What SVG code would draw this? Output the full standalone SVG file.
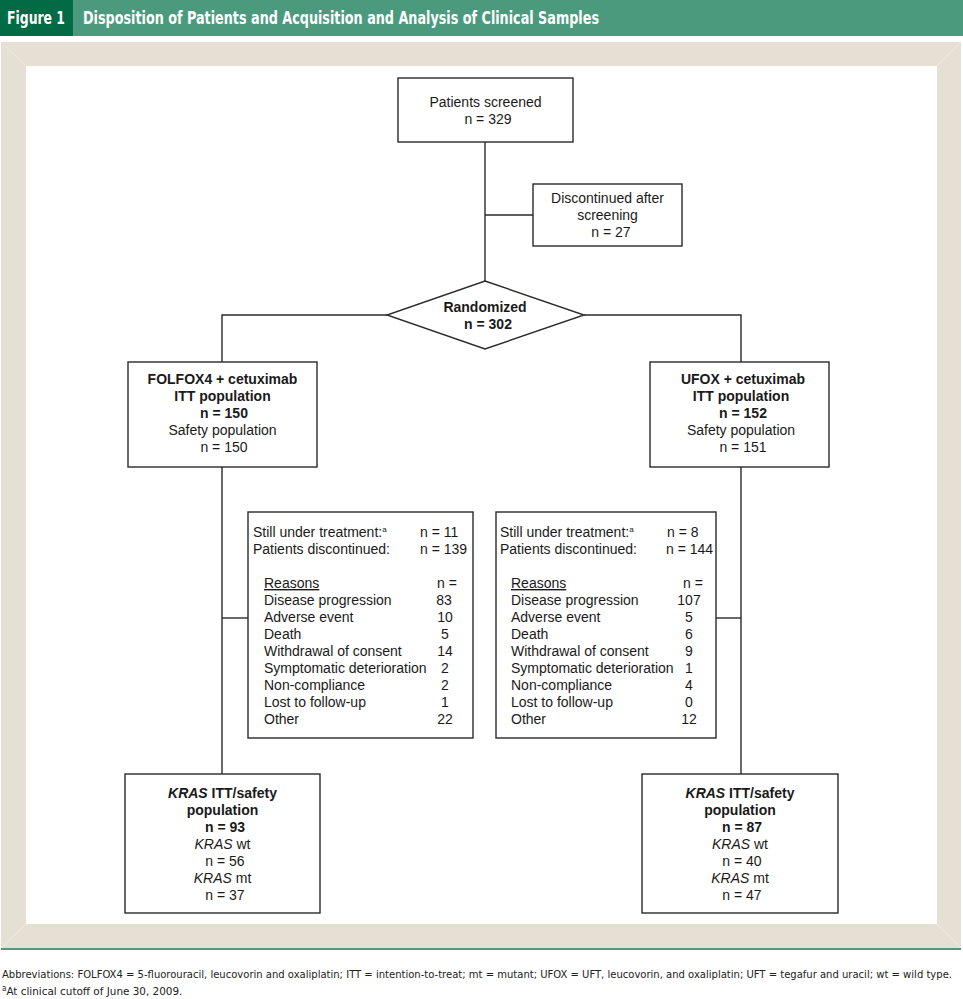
<svg xmlns="http://www.w3.org/2000/svg" width="963" height="999" viewBox="0 0 963 999">
<style>
  text { font-family: "Liberation Sans", Arial, sans-serif; font-size: 14px; fill: #1a1a1a; }
  .b { font-weight: bold; }
  .i { font-style: italic; }
  .m { text-anchor: middle; }
  .box { fill: #ffffff; stroke: #2a2a2a; stroke-width: 1.4; }
  .ln { fill: none; stroke: #2a2a2a; stroke-width: 1.4; }
  .hdr { font-family: "DejaVu Sans Condensed", "Liberation Sans Narrow", "Liberation Sans", sans-serif; font-weight: bold; font-size: 17px; fill: #ffffff; }
  .ft { font-family: "DejaVu Sans Condensed", "Liberation Sans Narrow", "Liberation Sans", sans-serif; font-size: 11px; fill: #222222; }
  .sup { font-size: 8px; }
</style>
<rect x="0" y="0" width="963" height="999" fill="#ffffff"/>
<!-- header -->
<g id="header">
  <rect x="0" y="0" width="963" height="36" fill="#4b9a7e"/>
  <rect x="0" y="0" width="73" height="36" fill="#006b45"/>
  <text class="hdr" x="7" y="24" textLength="58" lengthAdjust="spacingAndGlyphs">Figure 1</text>
  <text class="hdr" x="83" y="24" textLength="516" lengthAdjust="spacingAndGlyphs">Disposition of Patients and Acquisition and Analysis of Clinical Samples</text>
</g>
<!-- frame -->
<g id="frame">
  <rect x="1" y="42" width="960" height="906" fill="#e6e0d4"/>
  <rect x="26" y="66" width="911" height="858" fill="#ffffff"/>
  <g stroke="#efebe3" stroke-width="1">
    <line x1="1" y1="42" x2="26" y2="66"/>
    <line x1="961" y1="42" x2="937" y2="66"/>
    <line x1="1" y1="948" x2="26" y2="924"/>
    <line x1="961" y1="948" x2="937" y2="924"/>
  </g>
  <rect x="1" y="948" width="960" height="2" fill="#4e9c80"/>
</g>
<!-- connectors -->
<g id="connectors">
  <line class="ln" x1="485" y1="142" x2="485" y2="281"/>
  <line class="ln" x1="485" y1="215" x2="533" y2="215"/>
  <polyline class="ln" points="387,315 222,315 222,362"/>
  <polyline class="ln" points="584,315 741,315 741,362"/>
  <line class="ln" x1="222" y1="467" x2="222" y2="774"/>
  <line class="ln" x1="222" y1="618" x2="248" y2="618"/>
  <line class="ln" x1="741" y1="467" x2="741" y2="774"/>
  <line class="ln" x1="716" y1="618" x2="741" y2="618"/>
</g>
<!-- nodes -->
<g id="screened">
  <rect class="box" x="398" y="78" width="175" height="64"/>
  <text class="m" x="485.5" y="107">Patients screened</text>
  <text class="m" x="488" y="124">n = 329</text>
</g>
<g id="discontinued">
  <rect class="box" x="533" y="184" width="149" height="62"/>
  <text class="m" x="607.5" y="203">Discontinued after</text>
  <text class="m" x="607.5" y="220">screening</text>
  <text class="m" x="611" y="237">n = 27</text>
</g>
<g id="randomized">
  <polygon class="box" points="485,281 584,315 485,349 387,315"/>
  <text class="m b" x="485" y="312">Randomized</text>
  <text class="m b" x="488" y="329">n = 302</text>
</g>
<g id="folfox">
  <rect class="box" x="128" y="362" width="189" height="105"/>
  <text class="m b" x="222.5" y="384">FOLFOX4 + cetuximab</text>
  <text class="m b" x="222.5" y="401">ITT population</text>
  <text class="m b" x="224" y="418">n = 150</text>
  <text class="m" x="222.5" y="435">Safety population</text>
  <text class="m" x="224" y="452">n = 150</text>
</g>
<g id="ufox">
  <rect class="box" x="650" y="362" width="179" height="105"/>
  <text class="m b" x="743" y="384">UFOX + cetuximab</text>
  <text class="m b" x="741" y="401">ITT population</text>
  <text class="m b" x="743" y="418">n = 152</text>
  <text class="m" x="741" y="435">Safety population</text>
  <text class="m" x="743" y="452">n = 151</text>
</g>
<g id="reasons-left">
  <rect class="box" x="248" y="512" width="225" height="226"/>
  <text x="253" y="537">Still under treatment:<tspan class="sup" dy="-5">a</tspan></text>
  <text x="420" y="537">n = 11</text>
  <text x="253" y="554">Patients discontinued:</text>
  <text x="420" y="554">n = 139</text>
  <text x="264" y="588" text-decoration="underline">Reasons</text>
  <text x="437" y="588">n =</text>
  <text x="264" y="605">Disease progression</text>
  <text x="264" y="622">Adverse event</text>
  <text x="264" y="639">Death</text>
  <text x="264" y="656">Withdrawal of consent</text>
  <text x="264" y="673">Symptomatic deterioration</text>
  <text x="264" y="690">Non-compliance</text>
  <text x="264" y="707">Lost to follow-up</text>
  <text x="264" y="724">Other</text>
  <text class="m" x="444" y="605">83</text>
  <text class="m" x="445" y="622">10</text>
  <text class="m" x="445" y="639">5</text>
  <text class="m" x="445" y="656">14</text>
  <text class="m" x="445" y="673">2</text>
  <text class="m" x="445" y="690">2</text>
  <text class="m" x="445" y="707">1</text>
  <text class="m" x="445" y="724">22</text>
</g>
<g id="reasons-right">
  <rect class="box" x="496" y="512" width="220" height="226"/>
  <text x="500" y="537">Still under treatment:<tspan class="sup" dy="-5">a</tspan></text>
  <text x="667" y="537">n = 8</text>
  <text x="500" y="554">Patients discontinued:</text>
  <text x="666" y="554">n = 144</text>
  <text x="511" y="588" text-decoration="underline">Reasons</text>
  <text x="683" y="588">n =</text>
  <text x="511" y="605">Disease progression</text>
  <text x="511" y="622">Adverse event</text>
  <text x="511" y="639">Death</text>
  <text x="511" y="656">Withdrawal of consent</text>
  <text x="511" y="673">Symptomatic deterioration</text>
  <text x="511" y="690">Non-compliance</text>
  <text x="511" y="707">Lost to follow-up</text>
  <text x="511" y="724">Other</text>
  <text class="m" x="689" y="605">107</text>
  <text class="m" x="689" y="622">5</text>
  <text class="m" x="689" y="639">6</text>
  <text class="m" x="689" y="656">9</text>
  <text class="m" x="689" y="673">1</text>
  <text class="m" x="689" y="690">4</text>
  <text class="m" x="689" y="707">0</text>
  <text class="m" x="689" y="724">12</text>
</g>
<g id="kras-left">
  <rect class="box" x="125" y="774" width="195" height="139"/>
  <text class="m b" x="222.5" y="798"><tspan class="i">KRAS</tspan> ITT/safety</text>
  <text class="m b" x="222.5" y="815">population</text>
  <text class="m b" x="225" y="832">n = 93</text>
  <text class="m" x="222.5" y="849"><tspan class="i">KRAS</tspan> wt</text>
  <text class="m" x="225" y="866">n = 56</text>
  <text class="m" x="222.5" y="883"><tspan class="i">KRAS</tspan> mt</text>
  <text class="m" x="225" y="900">n = 37</text>
</g>
<g id="kras-right">
  <rect class="box" x="642" y="774" width="196" height="139"/>
  <text class="m b" x="740" y="798"><tspan class="i">KRAS</tspan> ITT/safety</text>
  <text class="m b" x="740" y="815">population</text>
  <text class="m b" x="742" y="832">n = 87</text>
  <text class="m" x="740" y="849"><tspan class="i">KRAS</tspan> wt</text>
  <text class="m" x="742" y="866">n = 40</text>
  <text class="m" x="740" y="883"><tspan class="i">KRAS</tspan> mt</text>
  <text class="m" x="742" y="900">n = 47</text>
</g>
<!-- footer -->
<g id="footer">
  <text class="ft" x="2" y="978" textLength="950" lengthAdjust="spacingAndGlyphs">Abbreviations: FOLFOX4 = 5-fluorouracil, leucovorin and oxaliplatin; ITT = intention-to-treat; mt = mutant; UFOX = UFT, leucovorin, and oxaliplatin; UFT = tegafur and uracil; wt = wild type.</text>
  <text class="ft" x="2" y="995"><tspan class="sup" dy="-4">a</tspan><tspan dy="4" textLength="176" lengthAdjust="spacingAndGlyphs">At clinical cutoff of June 30, 2009.</tspan></text>
</g>
</svg>
